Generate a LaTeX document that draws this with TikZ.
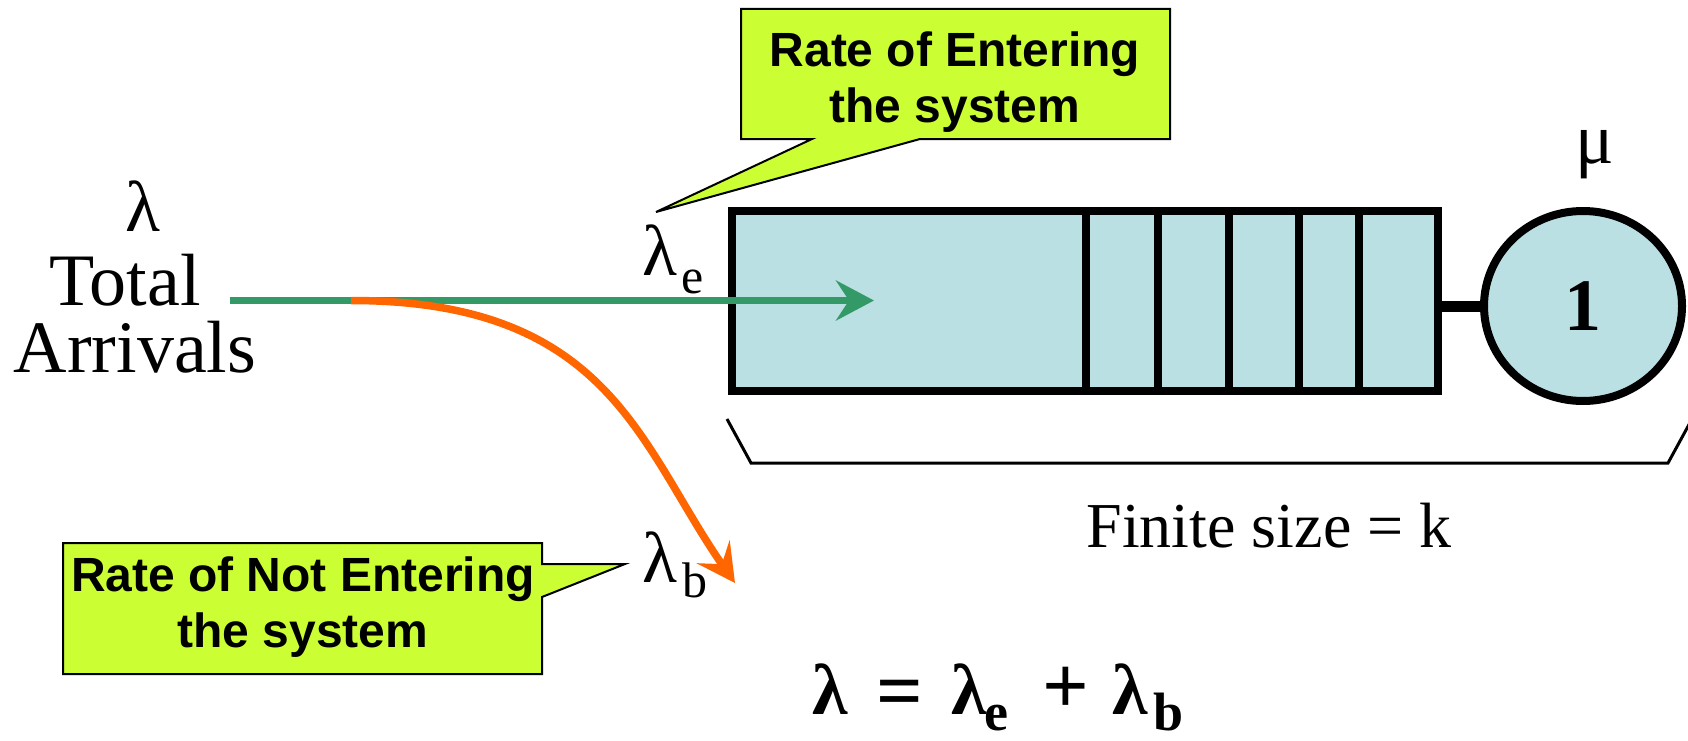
\documentclass[tikz,border=0pt]{standalone}
\usepackage{fontspec}
\setmainfont{Liberation Serif}
\newfontfamily\calloutfont{Liberation Sans}
\usetikzlibrary{arrows.meta,shapes.geometric}
\definecolor{callfill}{HTML}{CCFF33}
\definecolor{qfill}{HTML}{BBE0E3}
\definecolor{entergreen}{HTML}{339966}
\definecolor{balkorange}{HTML}{FF6600}
\newcommand{\myfs}[1]{\fontsize{#1}{#1}\selectfont}
\begin{document}
\begin{tikzpicture}[x=1pt,y=-1pt,
  txt/.style={inner sep=0pt,outer sep=0pt},
  bigtxt/.style={txt,font=\myfs{74}},
  lamtxt/.style={txt,font=\myfs{72}},
  subtxt/.style={txt,font=\myfs{50}},
  eqtxt/.style={txt,font=\bfseries\myfs{72}},
  eqop/.style={txt,font=\bfseries\myfs{82}},
  eqsub/.style={txt,font=\bfseries\myfs{54}},
  calltxt/.style={txt,font=\calloutfont\bfseries\myfs{48}},
  callout/.style={draw=black,fill=callfill,line width=2pt,line join=miter},
  qline/.style={line width=8pt},
  bracketline/.style={line width=3pt},
  enterarrow/.style={draw=entergreen,line width=7pt,-{Stealth[length=38pt,width=40pt,inset=13pt]}},
  balkarrow/.style={draw=balkorange,line width=7.5pt,-{Stealth[length=38pt,width=40pt,inset=15pt]}}]
\useasboundingbox (0,0) rectangle (1688,741);

% callout: rate of entering
\coordinate (tipE) at (656,212);
\draw[callout] (741,9) -- (1170,9) -- (1170,139) -- (920,139) -- (tipE) -- (812,139) -- (741,139) -- cycle;
\node[calltxt,anchor=base] (enter1) at (955,67) {Rate of Entering};
\node[calltxt,anchor=base] (enter2) at (955,122) {the system};

% callout: rate of not entering
\coordinate (tipB) at (625,564);
\draw[callout] (63,543) -- (542,543) -- (542,564) -- (tipB) -- (542,597) -- (542,674) -- (63,674) -- cycle;
\node[calltxt,anchor=base] (notenter1) at (303,591) {Rate of Not Entering};
\node[calltxt,anchor=base] (notenter2) at (303,647) {the system};

% queue
\node[draw,line width=8pt,fill=qfill,minimum width=706pt,minimum height=179.5pt,inner sep=0pt,outer sep=0pt,anchor=north west] (queue) at (732,211) {};
\foreach \x in {1086,1158,1229,1299,1359} \draw[qline] (\x,211) -- (\x,390.5);

% server
\node[ellipse,draw,line width=8pt,fill=qfill,minimum width=198pt,minimum height=190pt,inner sep=0pt,outer sep=0pt,font=\bfseries\myfs{74}] (server) at (1583,306) {\raisebox{-4pt}{1}};
\draw[line width=11pt] (queue.east |- server.west) -- (server.west);

% bracket
\draw[bracketline] (727,419) -- (751,463) -- (1668,463) -- (1692,419);

% arrows
\coordinate (gstart) at (230,300.5);
\coordinate (gend) at (874,300.5);
\coordinate (ostart) at (351,300.5);
\coordinate (oend) at (735,583);
\draw[enterarrow] (gstart) -- (gend);
\draw[balkarrow] (ostart) .. controls (610,300.5) and (640,447) .. (oend);

% texts
\node[lamtxt,anchor=base] (lamtot) at (143,231) {λ};
\node[bigtxt,anchor=base] (total) at (125,305) {Total};
\node[bigtxt,anchor=base] (arrivals) at (135,372) {Arrivals};

\node[lamtxt,anchor=base west] (lame) at (642,275) {λ};
\node[subtxt,anchor=base west] (sube) at (681,293) {e};
\node[lamtxt,anchor=base west] (lamb) at (642,582) {λ};
\node[subtxt,anchor=base west] (subb) at (682,597) {b};
\node[lamtxt,anchor=base] (mu) at (1595,163) {μ};

\node[txt,font=\myfs{64},anchor=base] (finite) at (1269,547) {Finite size = k};

% equation
\node[eqtxt,anchor=base west] (eq1) at (812,714) {λ};
\node[eqop,anchor=base west] (eq2) at (876,718) {=};
\node[eqtxt,anchor=base west] (eq3) at (951,714) {λ};
\node[eqsub,anchor=base west] (eq4) at (984,730) {e};
\node[eqop,anchor=base west] (eq5) at (1042,713) {+};
\node[eqtxt,anchor=base west] (eq6) at (1112,714) {λ};
\node[eqsub,anchor=base west] (eq7) at (1153,730) {b};
\end{tikzpicture}
\end{document}
